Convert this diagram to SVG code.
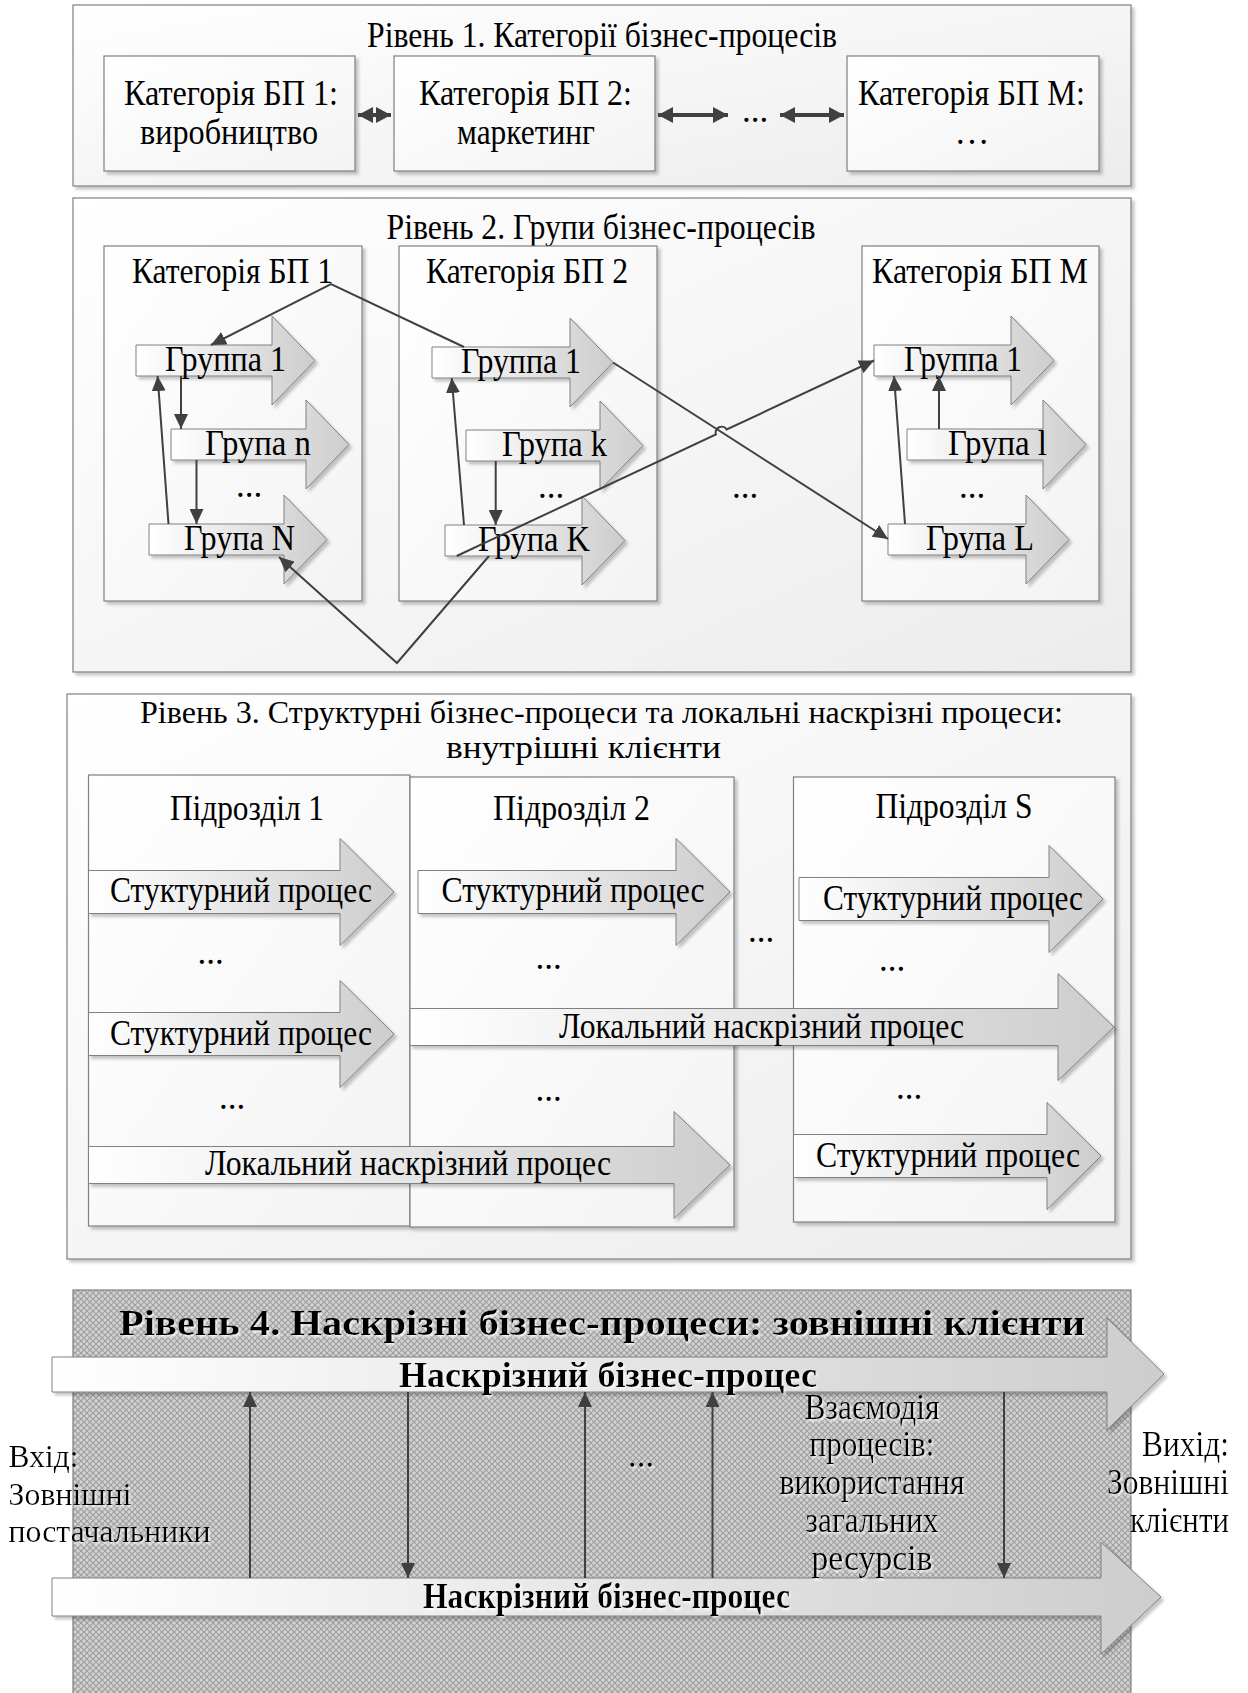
<svg xmlns="http://www.w3.org/2000/svg" width="1248" height="1693" viewBox="0 0 1248 1693">
<style>
text{font-family:"Liberation Serif","Times New Roman",serif;font-size:35px;fill:#000}
.c{text-anchor:middle}
.e{text-anchor:end}
.b{font-weight:bold}
.sm{font-size:32px}
.outer{fill:url(#gOuter);stroke:#7f7f7f;stroke-width:1.2;filter:url(#sh)}
.inner{fill:url(#gInner);stroke:#7f7f7f;stroke-width:1.2;filter:url(#sh)}
.ba{fill:url(#gArrow);stroke:#808080;stroke-width:1;filter:url(#sh)}
.cn{fill:none;stroke:#404040;stroke-width:2}
.dbl{fill:none;stroke:#404040;stroke-width:4}
.l4 text{filter:url(#ws)}
</style>
<defs>
<linearGradient id="gOuter" x1="0" y1="0" x2="1" y2="1"><stop offset="0" stop-color="#ffffff"/><stop offset="1" stop-color="#ececec"/></linearGradient>
<linearGradient id="gInner" x1="0" y1="0" x2="1" y2="1"><stop offset="0" stop-color="#ffffff"/><stop offset="1" stop-color="#f3f3f3"/></linearGradient>
<linearGradient id="gArrow" x1="0" y1="0" x2="1" y2="0"><stop offset="0" stop-color="#ffffff"/><stop offset="1" stop-color="#cdcdcd"/></linearGradient>
<pattern id="hatch" width="6" height="6" patternUnits="userSpaceOnUse">
<rect width="6" height="6" fill="#d2d2d2"/>
<path d="M0,0 L6,6 M6,0 L0,6" stroke="#9e9e9e" stroke-width="1.2"/>
</pattern>
<filter id="sh" x="-5%" y="-5%" width="115%" height="115%"><feDropShadow dx="3" dy="3" stdDeviation="1.5" flood-color="#000" flood-opacity="0.22"/></filter>
<filter id="ws" x="-5%" y="-10%" width="115%" height="130%"><feDropShadow dx="1.5" dy="2" stdDeviation="1" flood-color="#fff" flood-opacity="0.9"/></filter>
<marker id="ah" markerUnits="userSpaceOnUse" markerWidth="16" markerHeight="14" refX="15" refY="7" orient="auto"><path d="M0,0 L15,7 L0,14 z" fill="#404040"/></marker>
<marker id="dah" markerUnits="userSpaceOnUse" markerWidth="16" markerHeight="16" refX="15" refY="8" orient="auto-start-reverse"><path d="M0,0 L15,8 L0,16 z" fill="#404040"/></marker>
</defs>

<!-- Level 1 -->
<g id="level1">
<rect class="outer" x="73" y="5" width="1058" height="181"/>
<text class="c" x="602" y="47" textLength="470" lengthAdjust="spacingAndGlyphs">Рівень 1. Категорії бізнес-процесів</text>
</g>
<g id="cat1-l1"><rect class="inner" x="104" y="56" width="251" height="115"/>
<text class="c" x="231" y="105" textLength="214" lengthAdjust="spacingAndGlyphs">Категорія БП 1:</text>
<text class="c" x="229" y="144" textLength="178" lengthAdjust="spacingAndGlyphs">виробництво</text></g>
<g id="cat2-l1"><rect class="inner" x="394" y="56" width="261" height="115"/>
<text class="c" x="525.5" y="105" textLength="213" lengthAdjust="spacingAndGlyphs">Категорія БП 2:</text>
<text class="c" x="526" y="144" textLength="138" lengthAdjust="spacingAndGlyphs">маркетинг</text></g>
<g id="catM-l1"><rect class="inner" x="847" y="56" width="252" height="115"/>
<text class="c" x="971.5" y="105" textLength="227" lengthAdjust="spacingAndGlyphs">Категорія БП М:</text>
<text class="c" x="972" y="144">…</text></g>
<text class="c" x="755" y="122">...</text>

<!-- Level 2 -->
<g id="level2">
<rect class="outer" x="73" y="198" width="1058" height="474"/>
<text class="c" x="601" y="239" textLength="429" lengthAdjust="spacingAndGlyphs">Рівень 2. Групи бізнес-процесів</text>
</g>
<g id="cat1-l2"><rect class="inner" x="104" y="246" width="258" height="355"/>
<text class="c" x="232.5" y="283" textLength="201" lengthAdjust="spacingAndGlyphs">Категорія БП 1</text>
<text class="c" x="249" y="497">...</text></g>
<g id="cat2-l2"><rect class="inner" x="399" y="246" width="258" height="355"/>
<text class="c" x="527" y="283" textLength="202" lengthAdjust="spacingAndGlyphs">Категорія БП 2</text>
<text class="c" x="551" y="498">...</text></g>
<g id="catM-l2"><rect class="inner" x="862" y="246" width="237" height="355"/>
<text class="c" x="980" y="283" textLength="216" lengthAdjust="spacingAndGlyphs">Категорія БП М</text>
<text class="c" x="972" y="498">...</text></g>
<text class="c" x="745" y="498">...</text>

<g id="c1g1"><polygon class="ba" points="136,345 272,345 272,316 315,360.5 272,405 272,376 136,376"/>
<text class="c" x="225.5" y="371" textLength="121" lengthAdjust="spacingAndGlyphs">Группа 1</text></g>
<g id="c1gn"><polygon class="ba" points="171,429 306,429 306,400 349,444.5 306,489 306,460 171,460"/>
<text class="c" x="258" y="455" textLength="106" lengthAdjust="spacingAndGlyphs">Група n</text></g>
<g id="c1gN"><polygon class="ba" points="149,524 284,524 284,495 327,539.5 284,584 284,555 149,555"/>
<text class="c" x="239.5" y="550" textLength="111" lengthAdjust="spacingAndGlyphs">Група N</text></g>
<g id="c2g1"><polygon class="ba" points="432,347 570,347 570,318 613,362.5 570,407 570,378 432,378"/>
<text class="c" x="521" y="373" textLength="120" lengthAdjust="spacingAndGlyphs">Группа 1</text></g>
<g id="c2gk"><polygon class="ba" points="466,430 600,430 600,401 643,445.5 600,490 600,461 466,461"/>
<text class="c" x="554.5" y="456" textLength="105" lengthAdjust="spacingAndGlyphs">Група k</text></g>
<g id="c2gK"><polygon class="ba" points="445,525 582,525 582,496 625,540.5 582,585 582,556 445,556"/>
<text class="c" x="534" y="551" textLength="112" lengthAdjust="spacingAndGlyphs">Група K</text></g>
<g id="cMg1"><polygon class="ba" points="874,345 1011,345 1011,316 1054,360.5 1011,405 1011,376 874,376"/>
<text class="c" x="963" y="371" textLength="118" lengthAdjust="spacingAndGlyphs">Группа 1</text></g>
<g id="cMgl"><polygon class="ba" points="907,429 1043,429 1043,400 1086,444.5 1043,489 1043,460 907,460"/>
<text class="c" x="997.5" y="455" textLength="99" lengthAdjust="spacingAndGlyphs">Група l</text></g>
<g id="cMgL"><polygon class="ba" points="888,524 1026,524 1026,495 1069,539.5 1026,584 1026,555 888,555"/>
<text class="c" x="980" y="550" textLength="108" lengthAdjust="spacingAndGlyphs">Група L</text></g>

<!-- Level 3 -->
<g id="level3">
<rect class="outer" x="67" y="694" width="1064" height="565"/>
<text class="c sm" x="601.5" y="723" textLength="923" lengthAdjust="spacingAndGlyphs">Рівень 3. Структурні бізнес-процеси та локальні наскрізні процеси:</text>
<text class="c sm" x="583.5" y="758" textLength="275" lengthAdjust="spacingAndGlyphs">внутрішні клієнти</text>
</g>
<g id="sub1"><rect class="inner" x="88.5" y="775" width="321.5" height="451"/>
<text class="c" x="247" y="820" textLength="154" lengthAdjust="spacingAndGlyphs">Підрозділ 1</text>
<text class="c" x="210.5" y="964">...</text>
<text class="c" x="232" y="1109">...</text></g>
<g id="sub2"><rect class="inner" x="410" y="777" width="324" height="450"/>
<text class="c" x="571.5" y="820" textLength="157" lengthAdjust="spacingAndGlyphs">Підрозділ 2</text>
<text class="c" x="548.5" y="969">...</text>
<text class="c" x="548.5" y="1101">...</text></g>
<g id="subS"><rect class="inner" x="793.5" y="777" width="321.5" height="445"/>
<text class="c" x="954" y="818" textLength="157" lengthAdjust="spacingAndGlyphs">Підрозділ S</text>
<text class="c" x="892" y="970.5">...</text>
<text class="c" x="909" y="1099">...</text></g>
<text class="c" x="761" y="942">...</text>

<g id="s1p1"><polygon class="ba" points="88.5,870.5 340,870.5 340,838.5 394,892 340,945.5 340,913.5 88.5,913.5"/>
<text class="c" x="241" y="902" textLength="262" lengthAdjust="spacingAndGlyphs">Стуктурний процес</text></g>
<g id="s1p2"><polygon class="ba" points="88.5,1012.5 340,1012.5 340,980.5 394,1034 340,1087.5 340,1055.5 88.5,1055.5"/>
<text class="c" x="241" y="1045" textLength="262" lengthAdjust="spacingAndGlyphs">Стуктурний процес</text></g>
<g id="s2p1"><polygon class="ba" points="418,870.5 676,870.5 676,838.5 730,892 676,945.5 676,913.5 418,913.5"/>
<text class="c" x="573" y="902" textLength="263" lengthAdjust="spacingAndGlyphs">Стуктурний процес</text></g>
<g id="sSp1"><polygon class="ba" points="799,877.5 1049,877.5 1049,845.5 1103,899 1049,952.5 1049,920.5 799,920.5"/>
<text class="c" x="953" y="910" textLength="260" lengthAdjust="spacingAndGlyphs">Стуктурний процес</text></g>
<g id="sSp2"><polygon class="ba" points="793.5,1134.5 1047,1134.5 1047,1102.5 1101,1156 1047,1209.5 1047,1177.5 793.5,1177.5"/>
<text class="c" x="948" y="1167" textLength="264" lengthAdjust="spacingAndGlyphs">Стуктурний процес</text></g>
<g id="local1"><polygon class="ba" points="410,1008.5 1058,1008.5 1058,973.5 1114,1027 1058,1080.5 1058,1045.5 410,1045.5"/>
<text class="c" x="761.5" y="1037.5" textLength="405" lengthAdjust="spacingAndGlyphs">Локальний наскрізний процес</text></g>
<g id="local2"><polygon class="ba" points="88.5,1146.5 674,1146.5 674,1111.5 730,1165 674,1218.5 674,1183.5 88.5,1183.5"/>
<text class="c" x="408" y="1175" textLength="406" lengthAdjust="spacingAndGlyphs">Локальний наскрізний процес</text></g>

<!-- Level 4 -->
<g id="level4" class="l4">
<rect x="73" y="1290" width="1058" height="420" fill="url(#hatch)" stroke="#7f7f7f" stroke-width="1.2"/>
<text class="c b" x="602" y="1335" font-size="45" textLength="966" lengthAdjust="spacingAndGlyphs">Рівень 4. Наскрізні бізнес-процеси: зовнішні клієнти</text>
</g>
<g id="e2e1" class="l4"><polygon class="ba" points="52,1357 1107,1357 1107,1318 1164,1374 1107,1430 1107,1392 52,1392"/>
<text class="c b" x="608" y="1387" font-size="39" textLength="418" lengthAdjust="spacingAndGlyphs">Наскрізний бізнес-процес</text></g>
<g id="e2e2" class="l4"><polygon class="ba" points="52,1578 1101,1578 1101,1542 1161,1597 1101,1654 1101,1616 52,1616"/>
<text class="c b" x="606.5" y="1608" font-size="34" textLength="367" lengthAdjust="spacingAndGlyphs">Наскрізний бізнес-процес</text></g>
<g id="input" class="l4">
<text class="sm" x="8.6" y="1467" textLength="70" lengthAdjust="spacingAndGlyphs">Вхід:</text>
<text class="sm" x="8.6" y="1505" textLength="123" lengthAdjust="spacingAndGlyphs">Зовнішні</text>
<text class="sm" x="8.6" y="1542" textLength="202" lengthAdjust="spacingAndGlyphs">постачальники</text>
</g>
<g id="interaction" class="l4">
<text class="c" x="641" y="1467">...</text>
<text class="c" x="872" y="1419" textLength="135" lengthAdjust="spacingAndGlyphs">Взаємодія</text>
<text class="c" x="872" y="1456" textLength="125" lengthAdjust="spacingAndGlyphs">процесів:</text>
<text class="c" x="872" y="1494" textLength="185" lengthAdjust="spacingAndGlyphs">використання</text>
<text class="c" x="872" y="1532" textLength="133" lengthAdjust="spacingAndGlyphs">загальних</text>
<text class="c" x="872" y="1570" textLength="121" lengthAdjust="spacingAndGlyphs">ресурсів</text>
</g>
<g id="output" class="l4">
<text class="e" x="1229" y="1456" textLength="87" lengthAdjust="spacingAndGlyphs">Вихід:</text>
<text class="e" x="1229" y="1494" textLength="122" lengthAdjust="spacingAndGlyphs">Зовнішні</text>
<text class="e" x="1229" y="1532" textLength="99" lengthAdjust="spacingAndGlyphs">клієнти</text>
</g>

<!-- Connectors -->
<g id="connectors">
<path class="dbl" d="M358,115 L391,115" marker-start="url(#dah)" marker-end="url(#dah)"/>
<path class="dbl" d="M658,115 L728,115" marker-start="url(#dah)" marker-end="url(#dah)"/>
<path class="dbl" d="M780,115 L844,115" marker-start="url(#dah)" marker-end="url(#dah)"/>
<path class="cn" d="M181,376 L181,429" marker-end="url(#ah)"/>
<path class="cn" d="M196.5,460 L196.5,524" marker-end="url(#ah)"/>
<path class="cn" d="M168.5,524 L157.6,376" marker-end="url(#ah)"/>
<path class="cn" d="M495.7,461 L495.7,525" marker-end="url(#ah)"/>
<path class="cn" d="M464,525 L451.7,378" marker-end="url(#ah)"/>
<path class="cn" d="M939,429 L939,376" marker-end="url(#ah)"/>
<path class="cn" d="M905,524 L894,376" marker-end="url(#ah)"/>
<path class="cn" d="M464,347 L331,284 L211,345" marker-end="url(#ah)"/>
<path class="cn" d="M613,362.5 L888,539" marker-end="url(#ah)"/>
<path class="cn" d="M456.7,556 L715.9,434.5 A6,6 0 0 1 726.7,429.5 L874,360.5" marker-end="url(#ah)"/>
<path class="cn" d="M489,556 L397,663 L279,557" marker-end="url(#ah)"/>
<path class="cn" d="M250,1578 L250,1392" marker-end="url(#ah)"/>
<path class="cn" d="M408,1392 L408,1578" marker-end="url(#ah)"/>
<path class="cn" d="M585,1578 L585,1392" marker-end="url(#ah)"/>
<path class="cn" d="M712.5,1578 L712.5,1392" marker-end="url(#ah)"/>
<path class="cn" d="M1004,1392 L1004,1578" marker-end="url(#ah)"/>
</g>
</svg>
